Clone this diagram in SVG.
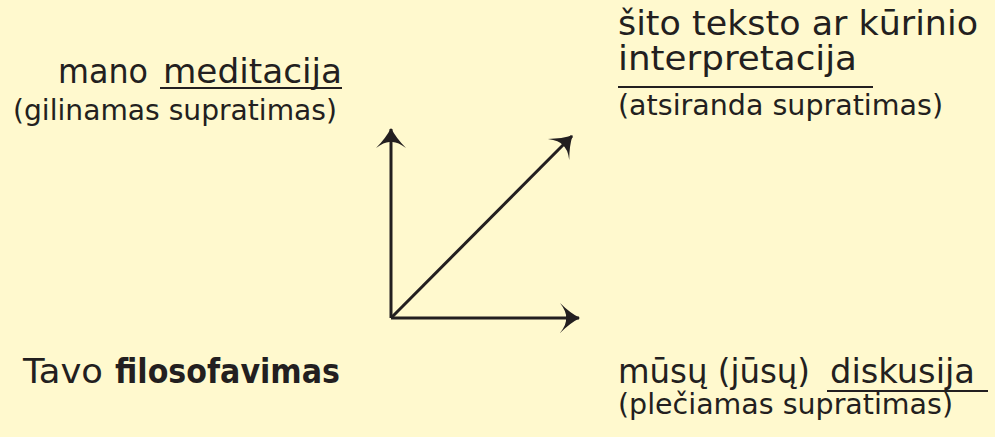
<svg xmlns="http://www.w3.org/2000/svg" width="995" height="437" viewBox="0 0 995 437">
  <style>
    .t { font-family: "DejaVu Sans", "Open Sans", sans-serif; fill: #231F20; }
    .big { font-size: 34px; }
    .small { font-size: 28px; }
    .ul { stroke: #231F20; stroke-width: 2; }
    .ax { stroke: #231F20; stroke-width: 3; fill: none; marker-end: url(#head); }
  </style>
  <defs>
    <marker id="head" viewBox="-21 -17 23 34" markerWidth="23" markerHeight="34" refX="0" refY="0" markerUnits="userSpaceOnUse" orient="auto">
      <path d="M1,0 Q-9,-5 -19,-15 Q-12,-6 -13,0 Q-12,6 -19,15 Q-9,5 1,0 Z" fill="#231F20"/>
    </marker>
  </defs>
  <rect x="0" y="0" width="995" height="437" fill="#FFF9CE"/>

  <g id="connectors">
    <path class="ax" d="M391,318 L391,129"/>
    <path class="ax" d="M391,318 L579,318"/>
    <path class="ax" d="M391,318 L572,136"/>
  </g>

  <g id="node-meditacija">
    <text class="t big" x="58" y="83" textLength="90" lengthAdjust="spacingAndGlyphs">mano</text>
    <text class="t big" x="163" y="83" textLength="179" lengthAdjust="spacingAndGlyphs">meditacija</text>
    <line class="ul" x1="160" y1="88" x2="342" y2="88"/>
    <text class="t small" x="13" y="120" textLength="324" lengthAdjust="spacingAndGlyphs">(gilinamas supratimas)</text>
  </g>

  <g id="node-interpretacija">
    <text class="t big" x="618" y="35" textLength="360" lengthAdjust="spacingAndGlyphs">šito teksto ar kūrinio</text>
    <text class="t big" x="618" y="70" textLength="239" lengthAdjust="spacingAndGlyphs">interpretacija</text>
    <line class="ul" x1="618" y1="87" x2="873" y2="87"/>
    <text class="t small" x="618" y="115" textLength="325" lengthAdjust="spacingAndGlyphs">(atsiranda supratimas)</text>
  </g>

  <g id="node-filosofavimas">
    <text class="t big" x="23" y="383" textLength="80" lengthAdjust="spacingAndGlyphs">Tavo</text>
    <text class="t big" x="115" y="383" font-weight="bold" textLength="225" lengthAdjust="spacingAndGlyphs">filosofavimas</text>
  </g>

  <g id="node-diskusija">
    <text class="t big" x="618" y="383" textLength="192" lengthAdjust="spacingAndGlyphs">mūsų (jūsų)</text>
    <text class="t big" x="830" y="383" textLength="145" lengthAdjust="spacingAndGlyphs">diskusija</text>
    <line class="ul" x1="827" y1="391" x2="988" y2="391"/>
    <text class="t small" x="618" y="414" textLength="335" lengthAdjust="spacingAndGlyphs">(plečiamas supratimas)</text>
  </g>
</svg>
